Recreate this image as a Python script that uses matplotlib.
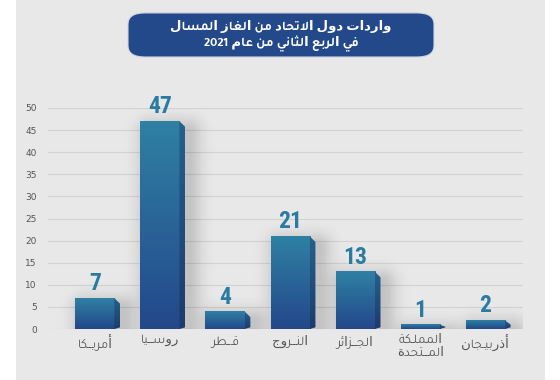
import re
import numpy as np
import matplotlib
matplotlib.use("Agg")
import matplotlib.pyplot as plt
import matplotlib.colors as mcolors
from matplotlib.patches import Rectangle, Polygon, FancyBboxPatch

# data
countries = ["أمريـــكا", "روســـيا", "قـــطر", "النـــروج", "الجـــزائر", "المملـكة\nالمـــتحدة", "أذربيـجان"]
imports = [7, 47, 4, 21, 13, 1, 2]
yticks = [0, 5, 10, 15, 20, 25, 30, 35, 40, 45, 50]
title = "واردات دول الاتحاد من الغاز المسال\nفي الربع الثاني من عام 2021"

AR_FONT = ["Tajawal", "DejaVu Sans"]
NUM_FONT = ["Roboto Condensed", "DejaVu Sans"]

# --- minimal arabic shaping (matplotlib has no bidi / joining) ---
_tbl = [('ء', 0xFE80, 1), ('آ', 0xFE81, 2), ('أ', 0xFE83, 2), ('ؤ', 0xFE85, 2), ('إ', 0xFE87, 2),
        ('ئ', 0xFE89, 4), ('ا', 0xFE8D, 2), ('ب', 0xFE8F, 4), ('ة', 0xFE93, 2), ('ت', 0xFE95, 4),
        ('ث', 0xFE99, 4), ('ج', 0xFE9D, 4), ('ح', 0xFEA1, 4), ('خ', 0xFEA5, 4), ('د', 0xFEA9, 2),
        ('ذ', 0xFEAB, 2), ('ر', 0xFEAD, 2), ('ز', 0xFEAF, 2), ('س', 0xFEB1, 4), ('ش', 0xFEB5, 4),
        ('ص', 0xFEB9, 4), ('ض', 0xFEBD, 4), ('ط', 0xFEC1, 4), ('ظ', 0xFEC5, 4), ('ع', 0xFEC9, 4),
        ('غ', 0xFECD, 4), ('ف', 0xFED1, 4), ('ق', 0xFED5, 4), ('ك', 0xFED9, 4), ('ل', 0xFEDD, 4),
        ('م', 0xFEE1, 4), ('ن', 0xFEE5, 4), ('ه', 0xFEE9, 4), ('و', 0xFEED, 2), ('ى', 0xFEEF, 2),
        ('ي', 0xFEF1, 4)]
FORMS = {c: (b, k) for c, b, k in _tbl}
LAM_ALEF = {'آ': 0xFEF5, 'أ': 0xFEF7, 'إ': 0xFEF9, 'ا': 0xFEFB}


def _dual(c):
    return c == 'ـ' or (c in FORMS and FORMS[c][1] == 4)


def _joins(c):
    return c == 'ـ' or c in FORMS


def shape(word):
    out = []
    i = 0
    n = len(word)
    while i < n:
        c = word[i]
        link_prev = i > 0 and _dual(word[i - 1])
        if c == 'ل' and i + 1 < n and word[i + 1] in LAM_ALEF:
            out.append(chr(LAM_ALEF[word[i + 1]] + (1 if link_prev else 0)))
            i += 2
            continue
        if c not in FORMS:
            out.append(c)
            i += 1
            continue
        base, k = FORMS[c]
        nxt = word[i + 1] if i + 1 < n else ''
        link_next = k == 4 and _joins(nxt)
        if k == 1:
            form = 0
        elif k == 2:
            form = 1 if link_prev else 0
        else:
            form = {(False, False): 0, (True, False): 1, (False, True): 2, (True, True): 3}[(link_prev, link_next)]
        out.append(chr(base + form))
        i += 1
    return ''.join(out)


def ar(text):
    lines = []
    for line in text.split('\n'):
        s = shape(line)[::-1]
        s = re.sub(r'[0-9]+', lambda m: m.group(0)[::-1], s)
        lines.append(s)
    return '\n'.join(lines)


def vgrad(c_bot, c_top, n=64):
    b = np.array(mcolors.to_rgb(c_bot))
    t = np.array(mcolors.to_rgb(c_top))
    f = np.linspace(0, 1, n)[:, None]
    return (b + (t - b) * f)[:, None, :]


def soft_shadow(ax, xc, h):
    # blurred shade around a bar, px per unit: 65 in x, 4.42 in y
    xs = np.linspace(xc - 1.0, xc + 1.0, 160)
    ys = np.linspace(0, h + 8, 200)
    X, Y = np.meshgrid(xs, ys)
    dx = np.maximum(np.maximum((xc - 0.15) - X, X - (xc + 0.42)), 0) * 65
    dy = np.maximum(Y - (h - 2.5), 0) * 4.42
    a = 0.16 * np.exp(-(np.hypot(dx, dy) / 14) ** 2)
    img = np.zeros(X.shape + (4,))
    img[..., 3] = a
    ax.imshow(img, extent=[xs[0], xs[-1], 0, ys[-1]], origin="lower", aspect="auto",
              zorder=1, interpolation="bilinear")


fig = plt.figure(figsize=(5.6, 3.8), dpi=100)
fig.patch.set_facecolor("white")

# grey panel
fig.patches.append(Rectangle((16 / 560, 0), 529 / 560, 1, transform=fig.transFigure,
                             facecolor="#e8e8e8", edgecolor="none", zorder=-2))

# title box
fig.patches.append(FancyBboxPatch((128 / 560, 0.85), 306 / 560, 0.116,
                                  boxstyle="round,pad=0,rounding_size=0.03",
                                  transform=fig.transFigure, facecolor="#23498b",
                                  edgecolor="#d0d6e0", linewidth=0.8, zorder=-1))
fig.text(281 / 560, 0.905, ar(title), ha="center", va="center", color="white",
         fontsize=9.5, fontweight="bold", family=AR_FONT, linespacing=1.2)

ax = fig.add_axes([48 / 560, 0.134, 475 / 560, 0.582])
ax.set_facecolor("none")
for s in ax.spines.values():
    s.set_visible(False)

x = np.arange(len(countries))
w = 0.6
d = 0.09

for xi, h in zip(x, imports):
    x0 = xi - w / 2
    x1 = xi + w / 2
    soft_shadow(ax, xi, h)
    # front face
    ax.imshow(vgrad("#23488a", "#2f80a4"), extent=[x0, x1, 0, h], origin="lower",
              aspect="auto", zorder=3, interpolation="bilinear")
    # side face
    bev = min(1.3, h * 0.5)
    side = Polygon([(x1, 0), (x1 + d, min(0.4, h * 0.4)), (x1 + d, h - bev), (x1, h)],
                   closed=True, facecolor="none", edgecolor="none", transform=ax.transData)
    ax.add_patch(side)
    im = ax.imshow(vgrad("#1c3b6c", "#26608c"), extent=[x1, x1 + d, 0, h], origin="lower",
                   aspect="auto", zorder=3, interpolation="bilinear")
    im.set_clip_path(side)
    ax.annotate(str(h), (xi, h), xytext=(0, 2), textcoords="offset points",
                ha="center", va="bottom", color="#2a7ba2", fontsize=17, fontweight="bold",
                family=NUM_FONT, annotation_clip=False)

ax.set_xlim(-0.72, 6.58)
ax.set_ylim(0, 50)
ax.set_yticks(yticks)
ax.set_yticklabels([str(t) for t in yticks], color="#555555", fontsize=6.5)
ax.set_xticks(x)
ax.set_xticklabels([ar(c) for c in countries], color="#555555", fontsize=9.5,
                   family=AR_FONT, linespacing=1.35)
ax.tick_params(axis="both", length=0)
ax.tick_params(axis="y", pad=8)
ax.tick_params(axis="x", pad=4)
ax.grid(axis="y", color="#d3d3d3", linewidth=0.8, zorder=0)
ax.set_axisbelow(True)

fig.savefig("out.png", dpi=100)
